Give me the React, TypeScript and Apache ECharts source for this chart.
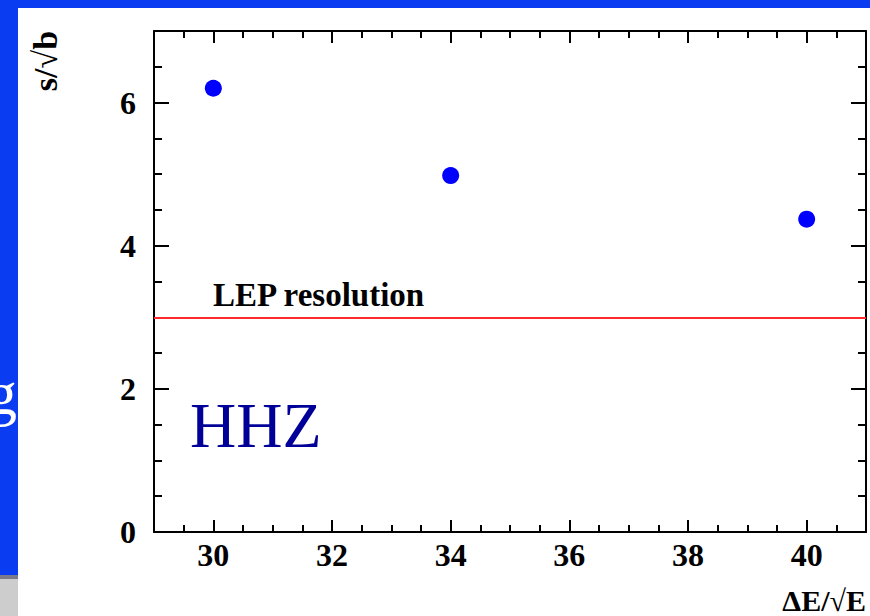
import React, { useEffect, useRef } from "react";
import * as echarts from "echarts";

// Data
const energyResolution = [30, 34, 40]; // ΔE/√E (%)
const significance = [6.2, 4.98, 4.37]; // s/√b
const lepResolutionLevel = 3; // LEP resolution reference value
const xTickLabels = ["30", "32", "34", "36", "38", "40"];
const yTickLabels = ["0", "2", "4", "6"];

const SERIF = '"Liberation Serif", "DejaVu Serif", serif';

export default function App() {
  const ref = useRef<HTMLDivElement>(null);

  useEffect(() => {
    if (!ref.current) return;
    const chart = echarts.init(ref.current, null, { renderer: "svg" });

    const axisLine = { show: true, onZero: false, lineStyle: { color: "#000", width: 2 } };
    const noLine = { show: false, onZero: false };
    const tickStyle = { color: "#000", width: 2 };
    const xMajorLabel = {
      show: true,
      margin: 7,
      color: "#000",
      fontFamily: SERIF,
      fontWeight: "bold",
      fontSize: 32,
      formatter: (v: number) => (xTickLabels.includes(String(v)) ? String(v) : ""),
    };
    const yMajorLabel = {
      show: true,
      margin: 18,
      color: "#000",
      fontFamily: SERIF,
      fontWeight: "bold",
      fontSize: 32,
      formatter: (v: number) => (yTickLabels.includes(String(v)) ? String(v) : ""),
    };

    const xCommon = { type: "value", min: 29, max: 41, splitLine: { show: false }, gridIndex: 0 };
    const yCommon = { type: "value", min: 0, max: 7, splitLine: { show: false }, gridIndex: 0 };

    chart.setOption({
      animation: false,
      backgroundColor: "#0a3cf2",
      grid: { left: 154, top: 31, width: 712, height: 501, containLabel: false },
      xAxis: [
        {
          ...xCommon,
          position: "bottom",
          splitNumber: 6,
          minInterval: 2,
          maxInterval: 2,
          axisLine,
          axisTick: { show: true, inside: true, length: 12, lineStyle: tickStyle },
          axisLabel: xMajorLabel,
        },
        {
          ...xCommon,
          position: "bottom",
          interval: 0.5,
          axisLine: noLine,
          axisTick: { show: true, inside: true, length: 7, lineStyle: tickStyle },
          axisLabel: { show: false },
        },
        {
          ...xCommon,
          position: "top",
          splitNumber: 6,
          minInterval: 2,
          maxInterval: 2,
          axisLine,
          axisTick: { show: true, inside: true, length: 12, lineStyle: tickStyle },
          axisLabel: { show: false },
        },
        {
          ...xCommon,
          position: "top",
          interval: 0.5,
          axisLine: noLine,
          axisTick: { show: true, inside: true, length: 7, lineStyle: tickStyle },
          axisLabel: { show: false },
        },
      ],
      yAxis: [
        {
          ...yCommon,
          position: "left",
          interval: 2,
          axisLine,
          axisTick: { show: true, inside: true, length: 15, lineStyle: tickStyle },
          axisLabel: yMajorLabel,
        },
        {
          ...yCommon,
          position: "left",
          interval: 0.5,
          axisLine: noLine,
          axisTick: { show: true, inside: true, length: 8, lineStyle: tickStyle },
          axisLabel: { show: false },
        },
        {
          ...yCommon,
          position: "right",
          interval: 2,
          axisLine,
          axisTick: { show: true, inside: true, length: 15, lineStyle: tickStyle },
          axisLabel: { show: false },
        },
        {
          ...yCommon,
          position: "right",
          interval: 0.5,
          axisLine: noLine,
          axisTick: { show: true, inside: true, length: 8, lineStyle: tickStyle },
          axisLabel: { show: false },
        },
      ],
      series: [
        {
          type: "scatter",
          xAxisIndex: 0,
          yAxisIndex: 0,
          symbol: "circle",
          symbolSize: 17,
          itemStyle: { color: "#0000ff", opacity: 1 },
          data: energyResolution.map((x, i) => [x, significance[i]]),
          markLine: {
            silent: true,
            symbol: ["none", "none"],
            label: { show: false },
            lineStyle: { color: "#ff2a2a", width: 2, type: "solid", opacity: 1 },
            data: [{ yAxis: lepResolutionLevel }],
          },
        },
      ],
      graphic: [
        {
          type: "text",
          z: -20,
          x: -14,
          y: 424,
          style: {
            text: "g",
            fill: "#ffffff",
            font: `62px ${SERIF}`,
            verticalAlign: "bottom",
          },
        },
        {
          type: "rect",
          z: -15,
          shape: { x: 0, y: 575, width: 18, height: 4 },
          style: { fill: "#7a7a8a" },
        },
        {
          type: "rect",
          z: -15,
          shape: { x: 0, y: 579, width: 18, height: 37 },
          style: { fill: "#cdcdcd" },
        },
        {
          type: "rect",
          z: -10,
          shape: { x: 18, y: 8, width: 852, height: 608 },
          style: { fill: "#ffffff" },
        },
        {
          type: "text",
          z: 10,
          x: 45,
          y: 61,
          rotation: Math.PI / 2,
          style: {
            text: "s/√b",
            fill: "#000",
            font: `bold 34px ${SERIF}`,
            align: "center",
            verticalAlign: "middle",
          },
        },
        {
          type: "text",
          z: 10,
          x: 866,
          y: 600,
          style: {
            text: "ΔE/√E",
            fill: "#000",
            font: `bold 30px ${SERIF}`,
            align: "right",
            verticalAlign: "middle",
          },
        },
        {
          type: "text",
          z: 10,
          x: 213,
          y: 295,
          style: {
            text: "LEP resolution",
            fill: "#000",
            font: `bold 33px ${SERIF}`,
            align: "left",
            verticalAlign: "middle",
          },
        },
        {
          type: "text",
          z: 10,
          x: 190,
          y: 425,
          style: {
            text: "HHZ",
            fill: "#000099",
            font: `64px ${SERIF}`,
            align: "left",
            verticalAlign: "middle",
          },
        },
      ],
    });

    return () => chart.dispose();
  }, []);

  return (
    <div
      ref={ref}
      style={{ position: "fixed", left: 0, top: 0, width: 870, height: 616 }}
    />
  );
}
